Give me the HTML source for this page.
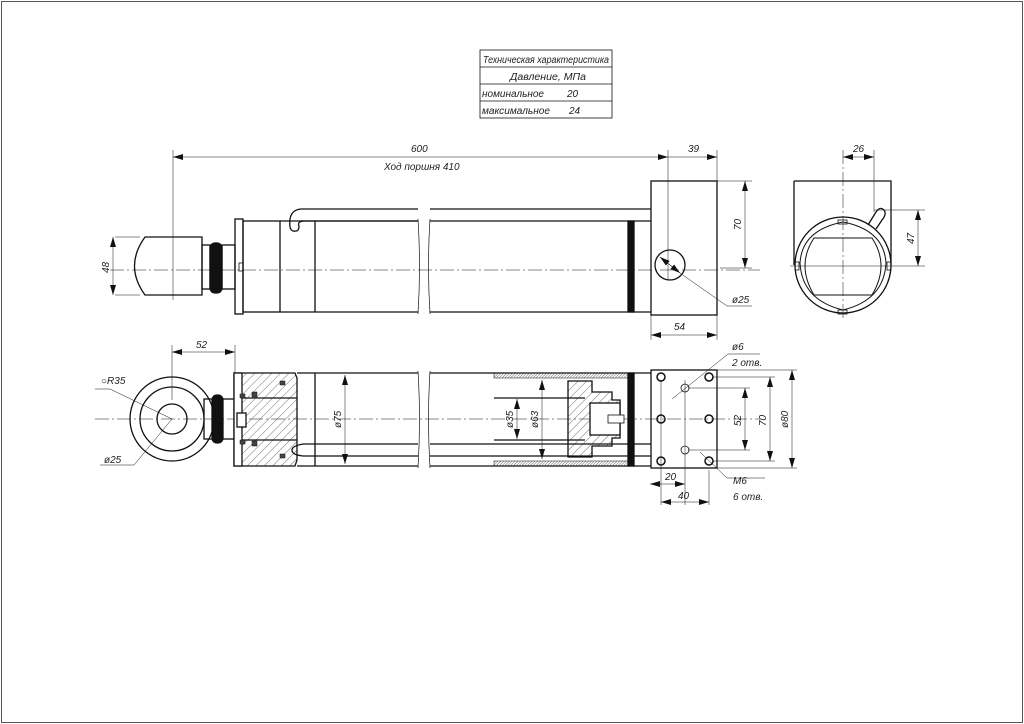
<!DOCTYPE html>
<html><head><meta charset="utf-8"><style>
html,body{margin:0;padding:0;background:#fff}
svg{display:block}
text{font-family:"Liberation Sans","Noto Sans CJK SC",sans-serif;font-style:italic;fill:#222;font-size:10px}
</style></head><body>
<svg width="1024" height="724" viewBox="0 0 1024 724" xmlns="http://www.w3.org/2000/svg">
<defs>
<pattern id="h" width="6" height="6" patternUnits="userSpaceOnUse" patternTransform="rotate(45)"><line x1="0" y1="0" x2="0" y2="6" stroke="#333" stroke-width="0.7"/></pattern>
<pattern id="hd" width="2" height="2" patternUnits="userSpaceOnUse" patternTransform="rotate(45)"><line x1="0" y1="0" x2="0" y2="2" stroke="#444" stroke-width="0.8"/></pattern>
<marker id="a" markerWidth="10" markerHeight="6" refX="10" refY="3" orient="auto-start-reverse" markerUnits="userSpaceOnUse"><path d="M0,0 L10,3 L0,6z" fill="#111"/></marker>
</defs>
<rect x="1.5" y="1.5" width="1021" height="721" fill="none" stroke="#555" stroke-width="1"/>
<g fill="none" stroke="#111" stroke-width="1.3">
<rect x="480" y="50" width="132" height="68" stroke-width="0.8"/>
<line x1="480" y1="67" x2="612" y2="67" stroke-width="0.8"/>
<line x1="480" y1="84" x2="612" y2="84" stroke-width="0.8"/>
<line x1="480" y1="101" x2="612" y2="101" stroke-width="0.8"/>

<line x1="110" y1="270" x2="760" y2="270" stroke-width="0.5" stroke-dasharray="14,3,2,3"/>
<path d="M145,237 H202 V295 H145 Q124,266 145,237Z"/>
<rect x="202" y="245" width="8" height="44"/>
<rect x="210" y="243" width="12" height="50" rx="5" fill="#111"/>
<rect x="222" y="245" width="13" height="44"/>
<rect x="235" y="219" width="8" height="95"/>
<rect x="239" y="263" width="4" height="8" stroke-width="0.8"/>
<rect x="243" y="221" width="37" height="91"/>
<line x1="280" y1="221" x2="418" y2="221"/><line x1="280" y1="312" x2="418" y2="312"/>
<line x1="430" y1="221" x2="651" y2="221"/><line x1="430" y1="312" x2="651" y2="312"/>
<line x1="315" y1="221" x2="315" y2="312"/>
<path d="M418,219 Q421,266 418,314 M430,219 Q427,266 430,314" stroke-width="0.7"/>
<path d="M301,209 H418 M430,209 H651 M301,221 H418" />
<path d="M301,209 Q288,210 290,227 Q291,232 296,231 Q299,231 299,226 Q297,222 303,221" />
<rect x="628" y="221" width="6" height="91" fill="#111"/>
<rect x="651" y="181" width="66" height="134"/>
<circle cx="670" cy="265" r="15"/>
<line x1="660" y1="257" x2="680" y2="273" stroke-width="0.6" marker-start="url(#a)" marker-end="url(#a)"/>
<line x1="680" y1="273" x2="727" y2="306" stroke-width="0.5"/><line x1="727" y1="306" x2="752" y2="306" stroke-width="0.5"/>
<g stroke-width="0.5">
<line x1="173" y1="150" x2="173" y2="300"/>
<line x1="173" y1="157" x2="668" y2="157" marker-start="url(#a)" marker-end="url(#a)"/>
<line x1="668" y1="150" x2="668" y2="280"/>
<line x1="717" y1="150" x2="717" y2="181"/>
<line x1="668" y1="157" x2="717" y2="157" marker-end="url(#a)"/>
<line x1="717" y1="181" x2="752" y2="181"/><line x1="720" y1="268" x2="752" y2="268"/>
<line x1="745" y1="181" x2="745" y2="268" marker-start="url(#a)" marker-end="url(#a)"/>
<line x1="651" y1="315" x2="651" y2="340"/><line x1="717" y1="315" x2="717" y2="340"/>
<line x1="651" y1="335" x2="717" y2="335" marker-start="url(#a)" marker-end="url(#a)"/>
<line x1="115" y1="237" x2="140" y2="237"/><line x1="115" y1="295" x2="140" y2="295"/>
<line x1="113" y1="237" x2="113" y2="295" marker-start="url(#a)" marker-end="url(#a)"/>
</g>

<path d="M794,181 H891 V265 M794,181 V265"/>
<circle cx="843" cy="265" r="48"/>
<path d="M800,263 Q802,230 843,222 Q884,230 886,263 Q884,300 843,310 Q802,300 800,263Z" stroke-width="1"/>
<path d="M814,238 H872 Q890,265 872,295 H814 Q796,265 814,238Z" stroke-width="1"/>
<path d="M868,225 L876,212 Q880,206 884,210 Q887,214 882,220 L876,229" />
<rect x="838" y="220" width="9" height="4" stroke-width="0.8"/>
<rect x="838" y="310" width="9" height="4" stroke-width="0.8"/>
<rect x="795" y="262" width="4" height="8" stroke-width="0.8"/>
<rect x="887" y="262" width="4" height="8" stroke-width="0.8"/>
<g stroke-width="0.5">
<line x1="843" y1="150" x2="843" y2="320" stroke-dasharray="14,3,2,3"/>
<line x1="790" y1="266" x2="925" y2="266"/>
<line x1="874" y1="150" x2="874" y2="212"/>
<line x1="843" y1="157" x2="874" y2="157" marker-start="url(#a)" marker-end="url(#a)"/>
<line x1="874" y1="210" x2="925" y2="210"/>
<line x1="918" y1="210" x2="918" y2="266" marker-start="url(#a)" marker-end="url(#a)"/>
</g>

<line x1="95" y1="419" x2="760" y2="419" stroke-width="0.5" stroke-dasharray="14,3,2,3"/>
<circle cx="172" cy="419" r="42"/>
<circle cx="172" cy="419" r="32"/>
<circle cx="172" cy="419" r="15"/>
<rect x="204" y="399" width="9" height="40"/>
<rect x="212" y="395" width="11" height="48" rx="5" fill="#111"/>
<rect x="222" y="399" width="14" height="40"/>
<path d="M234,373 H295 L297,378 L297,460 L295,466 H234Z" fill="url(#h)"/>
<rect x="234" y="373" width="8" height="93" fill="#fff"/>
<rect x="237" y="413" width="9" height="14" fill="#fff"/>
<line x1="242" y1="398" x2="297" y2="398"/><line x1="242" y1="440" x2="297" y2="440"/>
<g fill="#444" stroke-width="0.5"><rect x="240" y="394" width="5" height="4"/><rect x="252" y="392" width="5" height="5"/><rect x="280" y="381" width="5" height="4"/><rect x="240" y="440" width="5" height="4"/><rect x="252" y="441" width="5" height="5"/><rect x="280" y="454" width="5" height="4"/></g>
<line x1="297" y1="373" x2="418" y2="373"/><line x1="297" y1="466" x2="418" y2="466"/>
<line x1="430" y1="373" x2="651" y2="373"/><line x1="430" y1="466" x2="651" y2="466"/>
<line x1="315" y1="373" x2="315" y2="466"/>
<path d="M418,371 Q421,419 418,468 M430,371 Q427,419 430,468" stroke-width="0.7"/>
<path d="M303,444 H418 M430,444 H651 M303,456 H418 M430,456 H651"/>
<path d="M303,444 Q292,446 292,450 Q292,455 303,456"/>
<rect x="494" y="373" width="134" height="5" fill="url(#hd)" stroke-width="0.5"/>
<rect x="494" y="461" width="134" height="5" fill="url(#hd)" stroke-width="0.5"/>
<line x1="494" y1="398" x2="585" y2="398"/><line x1="494" y1="440" x2="585" y2="440"/>
<path d="M568,381 H592 V392 H612 V400 H620 V438 H612 V446 H592 V457 H568Z" fill="url(#h)"/>
<rect x="590" y="403" width="30" height="32" fill="#fff"/>
<rect x="608" y="415" width="16" height="8" fill="#fff" stroke-width="0.8"/>
<rect x="628" y="373" width="6" height="93" fill="#111"/>
<rect x="651" y="370" width="66" height="98"/>
<g fill="none" stroke-width="1.5">
<circle cx="661" cy="377" r="4"/><circle cx="709" cy="377" r="4"/>
<circle cx="661" cy="419" r="4"/><circle cx="709" cy="419" r="4"/>
<circle cx="661" cy="461" r="4"/><circle cx="709" cy="461" r="4"/>
</g>
<circle cx="685" cy="388" r="4" stroke-width="0.8"/><circle cx="685" cy="450" r="4" stroke-width="0.8"/>
<g stroke-width="0.5">
<line x1="685" y1="380" x2="685" y2="505"/>
<line x1="661" y1="380" x2="661" y2="505"/>
<line x1="709" y1="470" x2="709" y2="505"/>
<line x1="172" y1="345" x2="172" y2="400"/><line x1="235" y1="345" x2="235" y2="373"/>
<line x1="172" y1="352" x2="235" y2="352" marker-start="url(#a)" marker-end="url(#a)"/>
<line x1="345" y1="375" x2="345" y2="464" marker-start="url(#a)" marker-end="url(#a)"/>
<line x1="517" y1="399" x2="517" y2="439" marker-start="url(#a)" marker-end="url(#a)"/>
<line x1="542" y1="380" x2="542" y2="459" marker-start="url(#a)" marker-end="url(#a)"/>
<line x1="717" y1="370" x2="797" y2="370"/><line x1="717" y1="468" x2="797" y2="468"/>
<line x1="712" y1="377" x2="775" y2="377"/><line x1="712" y1="461" x2="775" y2="461"/>
<line x1="688" y1="388" x2="750" y2="388"/><line x1="688" y1="450" x2="750" y2="450"/>
<line x1="745" y1="388" x2="745" y2="450" marker-start="url(#a)" marker-end="url(#a)"/>
<line x1="770" y1="377" x2="770" y2="461" marker-start="url(#a)" marker-end="url(#a)"/>
<line x1="792" y1="370" x2="792" y2="468" marker-start="url(#a)" marker-end="url(#a)"/>
<line x1="650" y1="484" x2="685" y2="484" marker-start="url(#a)" marker-end="url(#a)"/>
<line x1="661" y1="502" x2="709" y2="502" marker-start="url(#a)" marker-end="url(#a)"/>
<line x1="672" y1="399" x2="728" y2="354"/><line x1="728" y1="354" x2="760" y2="354"/>
<line x1="700" y1="452" x2="727" y2="478"/><line x1="727" y1="478" x2="765" y2="478"/>
<line x1="95" y1="389" x2="110" y2="389"/><line x1="110" y1="389" x2="172" y2="419"/>
<line x1="172" y1="419" x2="134" y2="465"/><line x1="134" y1="465" x2="100" y2="465"/>
</g>
</g>
<g>
<text x="483" y="63" font-size="9" textLength="126" lengthAdjust="spacingAndGlyphs">Техническая характеристика</text>
<text x="510" y="80" font-size="9" textLength="76" lengthAdjust="spacingAndGlyphs">Давление, МПа</text>
<text x="482" y="97" font-size="9" textLength="62" lengthAdjust="spacingAndGlyphs">номинальное</text><text x="567" y="97" font-size="10">20</text>
<text x="482" y="114" font-size="9" textLength="68" lengthAdjust="spacingAndGlyphs">максимальное</text><text x="569" y="114" font-size="10">24</text>
<text x="411" y="152">600</text>
<text x="384" y="170">Ход поршня 410</text>
<text x="688" y="152">39</text>
<text x="853" y="152">26</text>
<text x="674" y="330">54</text>
<text x="732" y="303">ø25</text>
<text x="741" y="230" transform="rotate(-90 741 230)">70</text>
<text x="914" y="244" transform="rotate(-90 914 244)">47</text>
<text x="109" y="273" transform="rotate(-90 109 273)">48</text>
<text x="196" y="348">52</text>
<text x="101" y="384">○R35</text>
<text x="104" y="463">ø25</text>
<text x="341" y="428" transform="rotate(-90 341 428)">ø75</text>
<text x="513" y="428" transform="rotate(-90 513 428)">ø35</text>
<text x="538" y="428" transform="rotate(-90 538 428)">ø63</text>
<text x="732" y="350">ø6</text>
<text x="732" y="366">2 отв.</text>
<text x="741" y="426" transform="rotate(-90 741 426)">52</text>
<text x="766" y="426" transform="rotate(-90 766 426)">70</text>
<text x="788" y="428" transform="rotate(-90 788 428)">ø80</text>
<text x="665" y="480">20</text>
<text x="678" y="499">40</text>
<text x="733" y="484">М6</text>
<text x="733" y="500">6 отв.</text>
</g>
</svg>
</body></html>
